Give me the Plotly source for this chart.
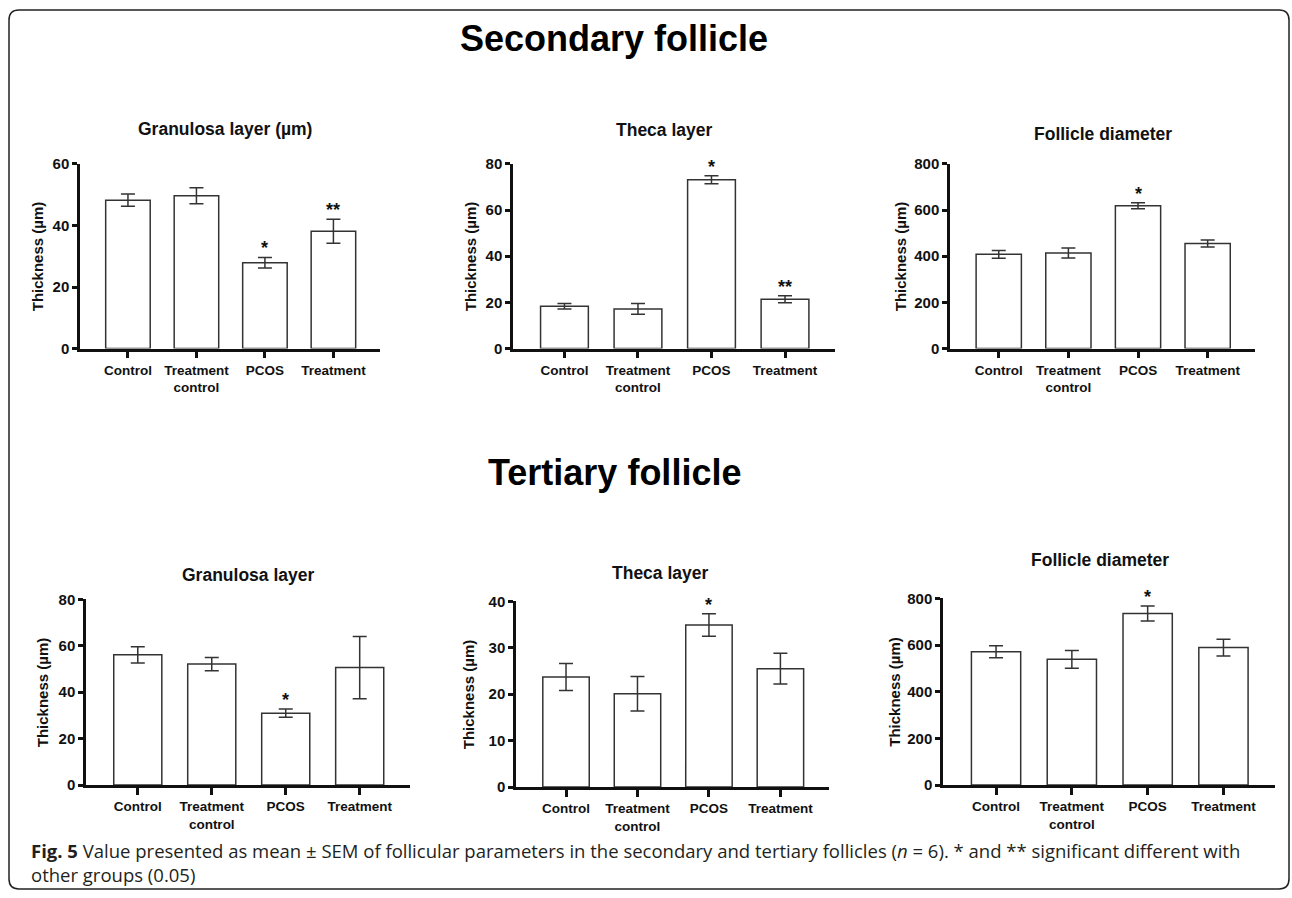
import plotly.graph_objects as go

W, H = 1292, 898

categories = ["Control", "Treatment control", "PCOS", "Treatment"]
tick_labels = ["Control", "Treatment<br>control", "PCOS", "Treatment"]

sec_granulosa_mean = [48.2, 49.6, 27.9, 38.1]
sec_granulosa_sem = [2.0, 2.6, 1.7, 3.9]
sec_granulosa_sig = ["", "", "*", "**"]

sec_theca_mean = [18.3, 17.2, 73.1, 21.4]
sec_theca_sem = [1.2, 2.3, 1.7, 1.5]
sec_theca_sig = ["", "", "*", "**"]

sec_diameter_mean = [408, 414, 619, 455]
sec_diameter_sem = [17, 22, 13, 15]
sec_diameter_sig = ["", "", "*", ""]

ter_granulosa_mean = [56.1, 52.1, 31.0, 50.6]
ter_granulosa_sem = [3.5, 2.9, 1.8, 13.4]
ter_granulosa_sig = ["", "", "*", ""]

ter_theca_mean = [23.7, 20.1, 34.9, 25.5]
ter_theca_sem = [2.9, 3.7, 2.4, 3.3]
ter_theca_sig = ["", "", "*", ""]

ter_diameter_mean = [571, 539, 735, 589]
ter_diameter_sem = [26, 38, 32, 36]
ter_diameter_sig = ["", "", "*", ""]

panel_titles = ["Granulosa layer (µm)", "Theca layer", "Follicle diameter",
                "Granulosa layer", "Theca layer", "Follicle diameter"]
y_title = "Thickness (µm)"
y_max = [60, 80, 800, 80, 40, 800]
y_dtick = [20, 20, 200, 20, 10, 200]

panels = [
    (sec_granulosa_mean, sec_granulosa_sem, sec_granulosa_sig),
    (sec_theca_mean, sec_theca_sem, sec_theca_sig),
    (sec_diameter_mean, sec_diameter_sem, sec_diameter_sig),
    (ter_granulosa_mean, ter_granulosa_sem, ter_granulosa_sig),
    (ter_theca_mean, ter_theca_sem, ter_theca_sig),
    (ter_diameter_mean, ter_diameter_sem, ter_diameter_sig),
]

# layout geometry in pixels of the target picture: (x_left, x_right, y_top, y_zero)
boxes = [
    (80, 380, 163, 348),
    (513, 835, 163, 348),
    (950, 1255, 163, 348),
    (86, 410, 599, 785),
    (516, 829, 601, 787),
    (943, 1275, 598, 785),
]
title_pos = [(225, 128), (665, 129), (1103, 133), (248, 575), (660, 573), (1100, 560)]
ytitle_x = [37, 470, 900, 42, 468, 895]

FONT = "Liberation Sans, Arial, sans-serif"
ink = "#111111"
edge = "#333333"

# the photographed page is shown with ~8px vertical padding; map target pixel rows to paper
PAD, VIS = 8.0, 882.0


def px(x):
    return x / W


def py(y):
    yl = (y - PAD) * H / VIS
    return 1 - yl / H


fig = go.Figure()
annotations = []
layout_axes = {}

for i, ((mean, sem, sig), (xl, xr, yt, yb)) in enumerate(zip(panels, boxes)):
    n = i + 1
    xa = "x" if n == 1 else f"x{n}"
    ya = "y" if n == 1 else f"y{n}"
    fig.add_trace(go.Bar(
        x=list(range(len(categories))), y=mean, width=0.65,
        marker=dict(color="white", line=dict(color=edge, width=1.5)),
        error_y=dict(type="data", array=sem, visible=True, color=edge, thickness=1.5, width=7),
        xaxis=xa, yaxis=ya, showlegend=False,
        hovertext=categories, name=panel_titles[i],
    ))
    xkey = "xaxis" if n == 1 else f"xaxis{n}"
    ykey = "yaxis" if n == 1 else f"yaxis{n}"
    layout_axes[xkey] = dict(
        domain=[px(xl), px(xr)], anchor=ya, range=[-0.7, 3.68],
        tickmode="array", tickvals=list(range(len(categories))), ticktext=tick_labels,
        showline=True, linecolor=ink, linewidth=2.5, ticks="outside", ticklen=7,
        tickwidth=2.5, tickcolor=ink, showgrid=False, zeroline=False,
        tickfont=dict(family=FONT, size=13.5, color=ink, weight="bold"), fixedrange=True,
    )
    layout_axes[ykey] = dict(
        domain=[py(yb), py(yt)], anchor=xa, range=[0, y_max[i]],
        dtick=y_dtick[i], showline=True, linecolor=ink, linewidth=2.5,
        ticks="outside", ticklen=5, tickwidth=2.5, tickcolor=ink,
        showgrid=False, zeroline=False,
        tickfont=dict(family=FONT, size=15, color=ink, weight="bold"), fixedrange=True,
    )
    # significance markers
    for j, s in enumerate(sig):
        if s:
            annotations.append(dict(
                x=j, y=mean[j] + sem[j], xref=xa, yref=ya, text=s, showarrow=False,
                yanchor="middle", yshift=9,
                font=dict(family=FONT, size=18, color=ink, weight="bold"),
            ))
    tx, ty = title_pos[i]
    annotations.append(dict(
        x=px(tx), y=py(ty), xref="paper", yref="paper", text=panel_titles[i],
        showarrow=False, xanchor="center", yanchor="middle",
        font=dict(family=FONT, size=17.5, color=ink, weight="bold"),
    ))
    annotations.append(dict(
        x=px(ytitle_x[i]), y=py((yt + yb) / 2), xref="paper", yref="paper",
        text=y_title, textangle=-90, showarrow=False, xanchor="center", yanchor="middle",
        font=dict(family=FONT, size=15, color=ink, weight="bold"),
    ))

# section headings
annotations.append(dict(x=px(614), y=py(38), xref="paper", yref="paper",
                        text="Secondary follicle", showarrow=False,
                        xanchor="center", yanchor="middle",
                        font=dict(family=FONT, size=36, color="#000", weight="bold")))
annotations.append(dict(x=px(614), y=py(472), xref="paper", yref="paper",
                        text="Tertiary follicle", showarrow=False,
                        xanchor="center", yanchor="middle",
                        font=dict(family=FONT, size=36, color="#000", weight="bold")))

caption = ("<b>Fig. 5</b> Value presented as mean ± SEM of follicular parameters in the secondary "
           "and tertiary follicles (<i>n</i> = 6). * and ** significant different with<br>"
           "other groups (0.05)")
annotations.append(dict(x=px(29), y=py(862), xref="paper", yref="paper",
                        text=caption, showarrow=False, xanchor="left", yanchor="middle",
                        align="left",
                        font=dict(family="Open Sans, Noto Sans, sans-serif", size=18.5,
                                  color="#231f20")))

# rounded frame (kept just inside the page)
fx0, fx1, r = 9, 1289, 10
fy0 = PAD + 1.0
fy1 = PAD + VIS - 1.0
rv = r * H / VIS
path = (f"M {px(fx0 + r)},{py(fy0)} L {px(fx1 - r)},{py(fy0)} Q {px(fx1)},{py(fy0)} {px(fx1)},{py(fy0 + rv)} "
        f"L {px(fx1)},{py(fy1 - rv)} Q {px(fx1)},{py(fy1)} {px(fx1 - r)},{py(fy1)} "
        f"L {px(fx0 + r)},{py(fy1)} Q {px(fx0)},{py(fy1)} {px(fx0)},{py(fy1 - rv)} "
        f"L {px(fx0)},{py(fy0 + rv)} Q {px(fx0)},{py(fy0)} {px(fx0 + r)},{py(fy0)} Z")

fig.update_layout(
    width=W, height=H, margin=dict(l=0, r=0, t=0, b=0),
    paper_bgcolor="white", plot_bgcolor="white",
    annotations=annotations,
    shapes=[dict(type="path", path=path, xref="paper", yref="paper",
                 line=dict(color="#222", width=1.5))],
    **layout_axes,
)

post = (
    "document.documentElement.style.margin='0px';"
    "document.documentElement.style.padding='0px';"
    "document.body.style.margin='0px';"
    "document.body.style.padding='0px';"
    "document.documentElement.style.overflow='hidden';"
    "document.body.style.overflow='hidden';"
    "var gd=document.getElementById('{plot_id}');"
    "gd.style.position='absolute';gd.style.left='0px';gd.style.top='0px';"
)

fig.write_html("out.html", config={"displayModeBar": False}, post_script=post)
